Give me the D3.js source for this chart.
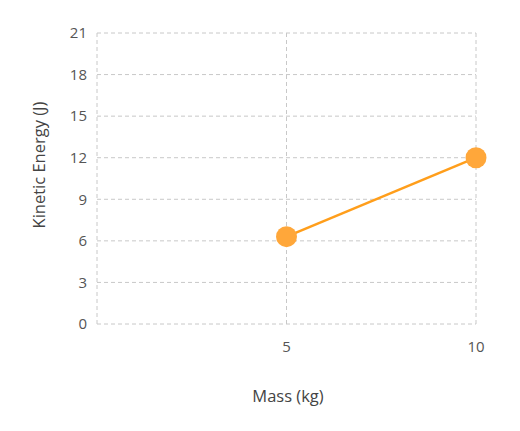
<!DOCTYPE html>
<html><head><meta charset="utf-8">
<script src="https://cdn.jsdelivr.net/npm/d3@7"></script>
<style>body{margin:0;background:#fff;} text{font-family:"Open Sans",Lato,sans-serif;}</style>
</head><body>
<svg id="c" width="520" height="431"></svg>
<script>
const mass = [5, 10];
const energy = [6.3, 12];
const yTicks = [0, 3, 6, 9, 12, 15, 18, 21];
const xTicks = [0, 5, 10];
const xTickLabels = ["", "5", "10"];

const svg = d3.select("#c");
const x = d3.scaleLinear().domain([0, 10]).range([97, 476]);
const y = d3.scaleLinear().domain([0, 21]).range([324, 33]);
const grid = "#c8c8c8";

svg.append("g").selectAll("line").data(yTicks).join("line")
  .attr("x1", x(0)).attr("x2", x(10)).attr("y1", d => y(d)).attr("y2", d => y(d))
  .attr("stroke", grid).attr("stroke-dasharray", "4,3").attr("stroke-width", 1);
svg.append("g").selectAll("line").data(xTicks).join("line")
  .attr("x1", d => x(d)).attr("x2", d => x(d)).attr("y1", y(0)).attr("y2", y(21))
  .attr("stroke", grid).attr("stroke-dasharray", "4,3").attr("stroke-width", 1);

svg.append("g").selectAll("text").data(yTicks).join("text")
  .attr("x", 87).attr("y", d => y(d)).attr("dy", "0.35em").attr("text-anchor", "end")
  .attr("font-size", 15).attr("fill", "#555").text(d => d);
svg.append("g").selectAll("text").data(xTicks).join("text")
  .attr("x", d => x(d)).attr("y", 352).attr("text-anchor", "middle")
  .attr("font-size", 15).attr("fill", "#555").text((d, i) => xTickLabels[i]);

svg.append("text").attr("transform", "translate(45,165) rotate(-90)")
  .attr("text-anchor", "middle").attr("font-size", 16.5).attr("fill", "#444").text("Kinetic Energy (J)");
svg.append("text").attr("x", 288).attr("y", 402).attr("text-anchor", "middle")
  .attr("font-size", 16.5).attr("fill", "#444").text("Mass (kg)");

const pts = mass.map((m, i) => [m, energy[i]]);
svg.append("path").datum(pts)
  .attr("d", d3.line().x(d => x(d[0])).y(d => y(d[1])))
  .attr("fill", "none").attr("stroke", "#ff9e1b").attr("stroke-width", 2.5);
svg.append("g").selectAll("circle").data(pts).join("circle")
  .attr("cx", d => x(d[0])).attr("cy", d => y(d[1])).attr("r", 10.5)
  .attr("fill", "#ffa73a");
</script>
</body></html>
